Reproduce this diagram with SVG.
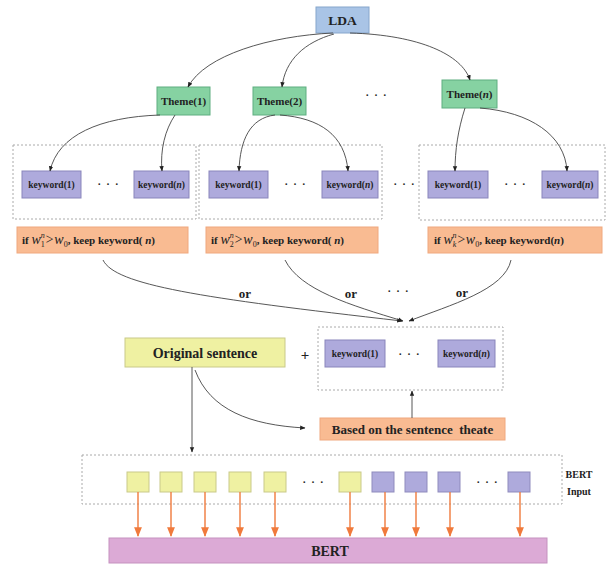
<svg xmlns="http://www.w3.org/2000/svg" width="609" height="564" viewBox="0 0 609 564">
<defs>
<marker id="ah" viewBox="0 0 10 10" refX="9" refY="5" markerWidth="6" markerHeight="6" orient="auto-start-reverse"><path d="M0,1 L10,5 L0,9 z" fill="#222"/></marker>
<marker id="ao" viewBox="0 0 10 10" refX="9" refY="5" markerWidth="7" markerHeight="7" orient="auto"><path d="M0,1 L10,5 L0,9 z" fill="#f07a3c"/></marker>
<style>
text{font-family:'Liberation Serif','DejaVu Serif','Times New Roman',serif;font-weight:bold;fill:#222;}
.lda{fill:#a9c4e6;stroke:#86a6cc;stroke-width:1;}
.theme{fill:#86d2a2;stroke:#5eae80;stroke-width:1;}
.kw{fill:#aeaadc;stroke:#8985bb;stroke-width:1;}
.cond{fill:#f9bb92;stroke:#f0a87e;stroke-width:1;}
.yel{fill:#eff1a2;stroke:#c9c98a;stroke-width:1;}
.pur{fill:#aeaadc;stroke:#8f8bbd;stroke-width:1;}
.bert{fill:#dcaad6;stroke:#c592bf;stroke-width:1;}
.dash{fill:none;stroke:#aaaaaa;stroke-width:1;stroke-dasharray:2,2;}
.con{fill:none;stroke:#444;stroke-width:0.9;marker-end:url(#ah);}
.oa{fill:none;stroke:#f07a3c;stroke-width:1.4;marker-end:url(#ao);}
.t11{font-size:11px;}
.kt{font-size:9.5px;}
.ct{font-size:11px;}
.or{font-size:13px;}
.m{font-style:italic;font-weight:normal;font-size:14px;}
.s{font-weight:normal;font-size:8px;}
.dots{font-size:15px;font-weight:normal;}
</style>
</defs>

<rect class="dash" x="13" y="145" width="183" height="74"/>
<rect class="dash" x="199" y="145" width="183" height="74"/>
<rect class="dash" x="419" y="145" width="186" height="75"/>
<rect class="dash" x="318" y="327" width="185" height="63"/>
<rect class="dash" x="82" y="455" width="480" height="49"/>

<g id="lda"><rect class="lda" x="316" y="7" width="53" height="26"/><text x="342.5" y="25" font-size="13.5" text-anchor="middle" fill="#1f2f55">LDA</text></g>

<g id="theme1"><rect class="theme" x="157" y="87" width="53" height="28"/><text x="183.5" y="105" class="t11" text-anchor="middle">Theme(1)</text></g>
<g id="theme2"><rect class="theme" x="253" y="87" width="53" height="28"/><text x="279.5" y="105" class="t11" text-anchor="middle">Theme(2)</text></g>
<g id="themen"><rect class="theme" x="442" y="80" width="55" height="28"/><text x="469.5" y="98" class="t11" text-anchor="middle">Theme(<tspan font-style="italic">n</tspan>)</text></g>
<text x="376" y="100" class="dots" text-anchor="middle">· · ·</text>

<g id="kw1_1"><rect class="kw" x="22" y="171" width="59" height="27"/><text x="51.5" y="188" class="kt" text-anchor="middle">keyword(1)</text></g>
<text x="108" y="189" class="dots" text-anchor="middle">· · ·</text>
<g id="kw1_n"><rect class="kw" x="134" y="171" width="55" height="27"/><text x="161.5" y="188" class="kt" text-anchor="middle">keyword(<tspan font-style="italic">n</tspan>)</text></g>

<g id="kw2_1"><rect class="kw" x="209" y="171" width="59" height="27"/><text x="238.5" y="188" class="kt" text-anchor="middle">keyword(1)</text></g>
<text x="295" y="189" class="dots" text-anchor="middle">· · ·</text>
<g id="kw2_n"><rect class="kw" x="322" y="171" width="56" height="27"/><text x="350" y="188" class="kt" text-anchor="middle">keyword(<tspan font-style="italic">n</tspan>)</text></g>

<text x="404" y="189" class="dots" text-anchor="middle">· · ·</text>

<g id="kw3_1"><rect class="kw" x="428" y="171" width="60" height="27"/><text x="458" y="188" class="kt" text-anchor="middle">keyword(1)</text></g>
<text x="515" y="189" class="dots" text-anchor="middle">· · ·</text>
<g id="kw3_n"><rect class="kw" x="542" y="171" width="56" height="27"/><text x="570" y="188" class="kt" text-anchor="middle">keyword(<tspan font-style="italic">n</tspan>)</text></g>

<g id="cond1"><rect class="cond" x="17" y="227" width="171" height="26"/>
<text x="22" y="244" class="ct">if <tspan class="m">w</tspan><tspan class="s" dy="3">1</tspan><tspan class="s" font-style="italic" dx="-4" dy="-9">n</tspan><tspan class="m" font-size="12" dy="6">&gt;</tspan><tspan class="m">w</tspan><tspan class="s" dy="3">0</tspan><tspan dy="-3">, keep keyword( </tspan><tspan font-style="italic">n</tspan>)</text></g>
<g id="cond2"><rect class="cond" x="206" y="227" width="172" height="26"/>
<text x="211" y="244" class="ct">if <tspan class="m">w</tspan><tspan class="s" dy="3">2</tspan><tspan class="s" font-style="italic" dx="-4" dy="-9">n</tspan><tspan class="m" font-size="12" dy="6">&gt;</tspan><tspan class="m">w</tspan><tspan class="s" dy="3">0</tspan><tspan dy="-3">, keep keyword( </tspan><tspan font-style="italic">n</tspan>)</text></g>
<g id="condk"><rect class="cond" x="428" y="227" width="174" height="26"/>
<text x="434" y="244" class="ct">if <tspan class="m">w</tspan><tspan class="s" font-style="italic" dy="3">k</tspan><tspan class="s" font-style="italic" dx="-4" dy="-9">n</tspan><tspan class="m" font-size="12" dy="6">&gt;</tspan><tspan class="m">w</tspan><tspan class="s" dy="3">0</tspan><tspan dy="-3">, keep keyword(</tspan><tspan font-style="italic">n</tspan>)</text></g>

<text x="245" y="298" class="or" text-anchor="middle">or</text>
<text x="351" y="298" class="or" text-anchor="middle">or</text>
<text x="398" y="296" class="dots" text-anchor="middle">· · ·</text>
<text x="462" y="297" class="or" text-anchor="middle">or</text>

<g id="orig"><rect class="yel" x="125" y="338" width="160" height="29"/><text x="205" y="357.5" font-size="14" text-anchor="middle">Original sentence</text></g>
<text x="305" y="360" font-size="15" font-weight="normal" text-anchor="middle">+</text>
<g id="kwl_1"><rect class="kw" x="325" y="340" width="60" height="27"/><text x="355" y="357" class="kt" text-anchor="middle">keyword(1)</text></g>
<text x="409" y="359" class="dots" text-anchor="middle">· · ·</text>
<g id="kwl_n"><rect class="kw" x="438" y="340" width="57" height="27"/><text x="466.5" y="357" class="kt" text-anchor="middle">keyword(<tspan font-style="italic">n</tspan>)</text></g>

<g id="based"><rect class="cond" x="320" y="418" width="185" height="22"/><text x="412.5" y="433.5" font-size="13" text-anchor="middle" xml:space="preserve">Based on the sentence  theate</text></g>

<g id="inputs">
<rect class="yel" x="127" y="472" width="22" height="20"/>
<rect class="yel" x="160" y="472" width="22" height="20"/>
<rect class="yel" x="194" y="472" width="22" height="20"/>
<rect class="yel" x="229" y="472" width="22" height="20"/>
<rect class="yel" x="264" y="472" width="22" height="20"/>
<text x="313" y="487" class="dots" text-anchor="middle">· · ·</text>
<rect class="yel" x="339" y="472" width="22" height="20"/>
<rect class="pur" x="372" y="472" width="22" height="20"/>
<rect class="pur" x="405" y="472" width="22" height="20"/>
<rect class="pur" x="438" y="472" width="22" height="20"/>
<text x="487" y="487" class="dots" text-anchor="middle">· · ·</text>
<rect class="pur" x="508" y="472" width="22" height="20"/>
</g>
<text x="579" y="478" font-size="10" text-anchor="middle">BERT</text>
<text x="579" y="495" font-size="10" text-anchor="middle">Input</text>

<g id="bert"><rect class="bert" x="109" y="538" width="438" height="25"/><text x="330" y="556" font-size="14" text-anchor="middle" fill="#3a2a4a">BERT</text></g>

<g id="connectors">
<path class="con" d="M333,33 C270,36 205,55 188,87"/>
<path class="con" d="M334,34 C305,42 285,60 282,87"/>
<path class="con" d="M350,33 C420,35 462,55 470,80"/>
<path class="con" d="M160,115 C100,117 58,135 50,171"/>
<path class="con" d="M175,115 C165,130 160,150 162,171"/>
<path class="con" d="M275,115 C250,118 240,140 239,171"/>
<path class="con" d="M280,115 C320,118 345,135 348,171"/>
<path class="con" d="M465,108 C458,130 455,150 455,171"/>
<path class="con" d="M480,108 C530,112 565,135 567,171"/>
<path class="con" d="M103,260 C115,285 200,298 402,321"/>
<path class="con" d="M285,260 C300,290 350,305 403,321"/>
<path class="con" d="M511,260 C505,290 450,305 409,321"/>
<path class="con" d="M195,370 C210,410 250,425 305,428"/>
<path class="con" d="M192,367 L192,452"/>
<path class="con" d="M412,418 L412,391"/>
<path class="oa" d="M138,492 V536"/>
<path class="oa" d="M171,492 V536"/>
<path class="oa" d="M205,492 V536"/>
<path class="oa" d="M240,492 V536"/>
<path class="oa" d="M275,492 V536"/>
<path class="oa" d="M350,492 V536"/>
<path class="oa" d="M385,492 V536"/>
<path class="oa" d="M416,492 V536"/>
<path class="oa" d="M450,492 V536"/>
<path class="oa" d="M520,492 V536"/>
</g>
</svg>
